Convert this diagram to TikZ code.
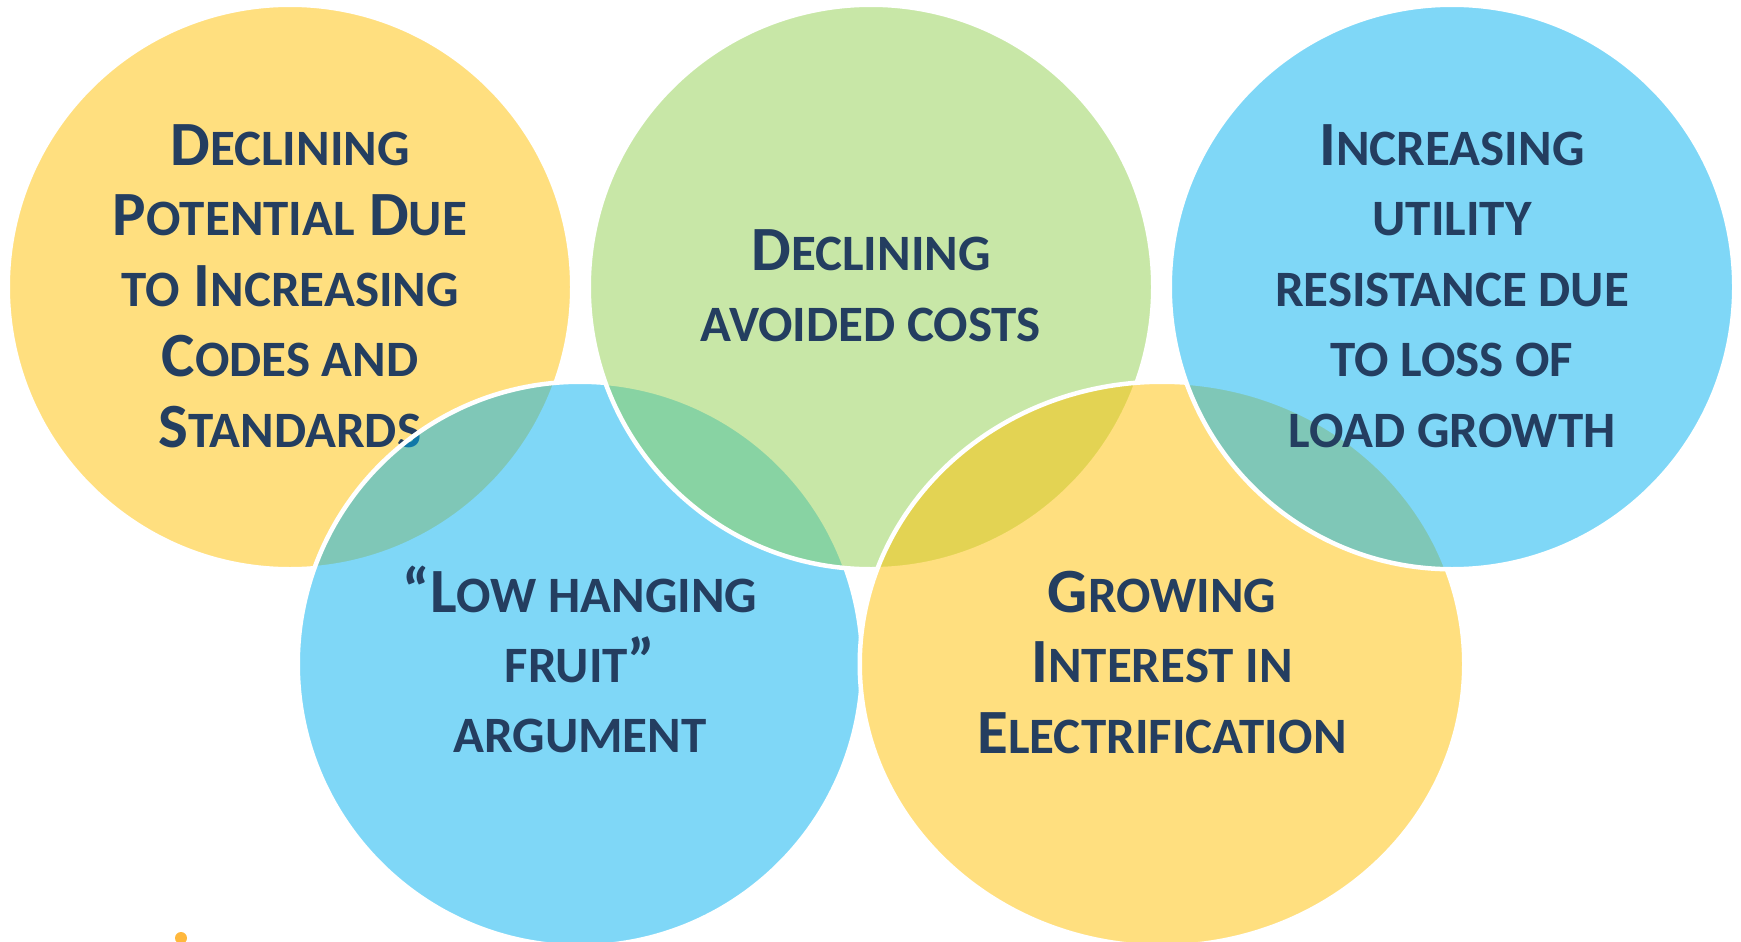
\documentclass[tikz,border=0pt]{standalone}
\usepackage{fontspec}
\setmainfont{Carlito}
\usetikzlibrary{shapes.geometric}
\definecolor{cyel}{HTML}{FFC000}
\definecolor{cblu}{HTML}{00B0F0}
\definecolor{cgrn}{HTML}{92D050}
\definecolor{navy}{HTML}{243E60}
\definecolor{dotor}{HTML}{FFB83D}
\definecolor{dotbl}{HTML}{9ED3EA}
\newcommand\Lc[1]{{\fontsize{25.5pt}{30pt}\selectfont #1}}
\tikzset{
  bub/.style={circle, inner sep=0pt, minimum size=282.25pt, fill opacity=0.5,
    draw=white, line width=2.25pt},
  txt/.style={anchor=base, inner sep=0pt, text=navy, text opacity=1,
    font=\bfseries\fontsize{31.5pt}{36pt}\selectfont}
}
\begin{document}
\begin{tikzpicture}[x=0.5pt,y=-0.5pt]
\useasboundingbox (0,0) rectangle (1741,942);
\clip (0,0) rectangle (1741,942);
% top-left yellow
\node[bub, fill=cyel] (c1) at (290,287) {};
\node[txt] (t1a) at (290,165) {D\Lc{ECLINING}};
\node[txt] (t1b) at (290,235.5) {P\Lc{OTENTIAL} D\Lc{UE}};
\node[txt] (t1c) at (290,306) {\Lc{TO} I\Lc{NCREASING}};
\node[txt] (t1d) at (290,376.5) {C\Lc{ODES AND}};
\node[txt] (t1e) at (290,447) {S\Lc{TANDARDS}};
% bottom-left blue
\node[bub, fill=cblu] (c4) at (580,664) {};
\node[txt] (t4a) at (580,612) {“L\Lc{OW HANGING}};
\node[txt] (t4b) at (580,682) {\Lc{FRUIT}”};
\node[txt] (t4c) at (580,752) {\Lc{ARGUMENT}};
% top-middle green
\node[bub, fill=cgrn] (c2) at (871,287) {};
\node[txt] (t2a) at (871,270.5) {D\Lc{ECLINING}};
\node[txt] (t2b) at (871,341) {\Lc{AVOIDED COSTS}};
% bottom-right yellow
\node[bub, ellipse, minimum width=302.25pt, minimum height=282.25pt, fill=cyel] (c5) at (1162,664) {};
\node[txt] (t5a) at (1162,612) {G\Lc{ROWING}};
\node[txt] (t5b) at (1162,682.5) {I\Lc{NTEREST IN}};
\node[txt] (t5c) at (1162,753) {E\Lc{LECTRIFICATION}};
% top-right blue
\node[bub, fill=cblu] (c3) at (1452,287) {};
\node[txt] (t3a) at (1452,165) {I\Lc{NCREASING}};
\node[txt] (t3b) at (1452,235.5) {\Lc{UTILITY}};
\node[txt] (t3c) at (1452,306) {\Lc{RESISTANCE DUE}};
\node[txt] (t3d) at (1452,376.5) {\Lc{TO LOSS OF}};
\node[txt] (t3e) at (1452,447) {\Lc{LOAD GROWTH}};
% small cut-off marks at the bottom left
\node[circle, inner sep=0pt, minimum size=6pt, fill=dotor] (dot1) at (181,938) {};
\node[circle, inner sep=0pt, minimum size=5pt, fill=dotbl] (dot2) at (196,947) {};
\end{tikzpicture}
\end{document}
